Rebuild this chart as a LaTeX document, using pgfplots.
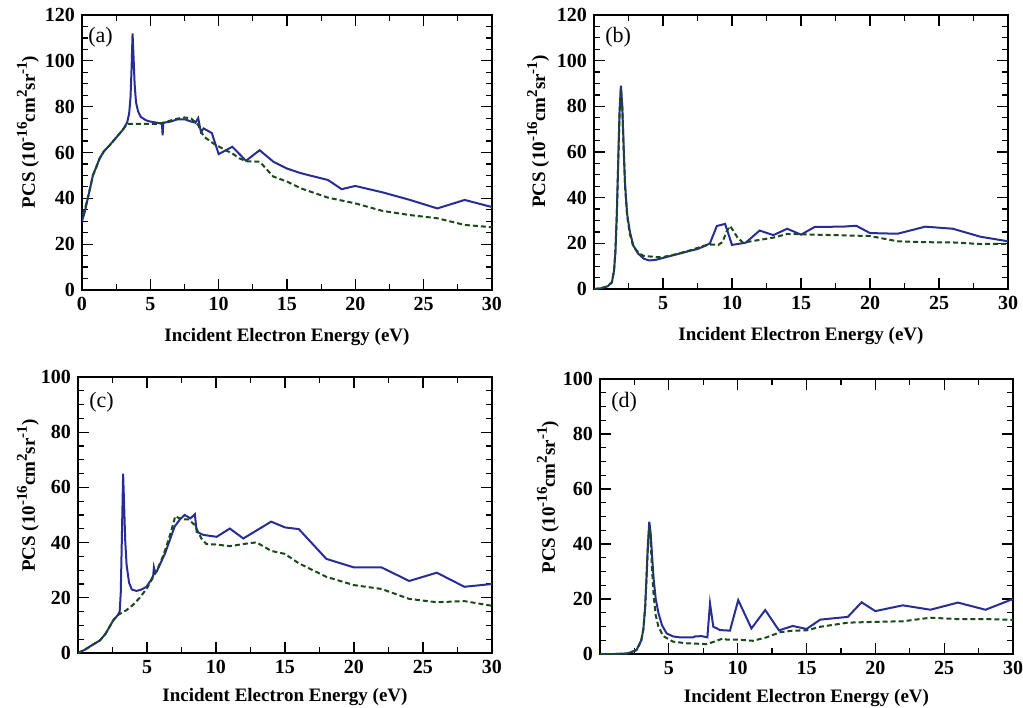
\documentclass[border=0pt]{standalone}
\usepackage{fontspec}
\setmainfont{Liberation Serif}
\usepackage{pgfplots}
\pgfplotsset{compat=1.18}
\definecolor{cblue}{RGB}{40,45,150}
\definecolor{cgreen}{RGB}{25,75,25}
\newcommand{\sups}[1]{\raisebox{0.42em}{\fontsize{7.5}{8}\selectfont\bfseries #1}}
\pgfplotsset{
 pcs/.style={
  scale only axis, xmin=0, xmax=30, ymin=0,
  xtick={0,5,...,30}, minor x tick num=1, minor y tick num=3,
  tick align=inside, major tick length=5.5pt, minor tick length=3pt,
  axis line style={line width=0.8pt},
  every tick/.append style={line width=0.6pt, black},
  /pgf/number format/assume math mode=true,
  ticklabel style={font=\fontsize{10}{12}\selectfont\bfseries},
  xlabel={Incident Electron Energy (eV)},
  ylabel={PCS (10\sups{-16}cm\sups{2}sr\sups{-1})},
  label style={font=\fontsize{9.5}{11}\selectfont\bfseries},
  xlabel style={at={(axis description cs:0.5,-0.16)}, anchor=center},
 },
 bl/.style={color=cblue, line width=1pt},
 gr/.style={color=cgreen, line width=1pt, dash pattern=on 2.5pt off 1.5pt},
}
\begin{document}
\begin{tikzpicture}
\path[use as bounding box] (0,0) rectangle (511.5pt,-353.5pt);
% (a)
\begin{axis}[pcs, at={(41pt,-145pt)}, anchor=south west, width=205pt, height=137.5pt,
  ymax=120, ytick={0,20,...,120},
  xlabel style={at={(axis description cs:0.5,-0.17)}},
  ylabel style={at={(axis description cs:-0.132,0.575)}, anchor=center}]
\addplot[bl] coordinates {
(0,30) (0.2,34) (0.5,42) (0.8,50) (1.0,53) (1.3,57.5) (1.6,60.5) (2.0,63) (2.5,66.5)
(3.0,70) (3.3,73) (3.45,77) (3.55,84) (3.63,97) (3.7,112) (3.77,102) (3.85,90) (3.95,82)
(4.1,78) (4.3,75.5) (4.7,74) (5.0,73.5) (5.5,73) (5.85,72.5) (5.9,67.5) (5.95,73)
(6.5,73.5) (7.0,74.5) (7.5,74.5) (8.0,73.5) (8.3,73) (8.5,75) (8.7,69) (8.9,70.5)
(9.5,68.5) (10.0,59.3) (11.0,62.5) (12.0,56.4) (13.0,61) (14.0,56) (15.0,53) (16.0,51)
(18.0,48) (19.0,44) (20.0,45.4) (22.0,42.6) (24.0,39.3) (26.0,35.6) (28.0,39.3) (30.0,36.2)};
\addplot[gr] coordinates {
(0,33) (0.2,35) (0.5,42) (0.8,50) (1.0,53) (1.3,57.5) (1.6,60.5) (2.0,63) (2.5,66.5)
(3.0,70) (3.3,72.5) (3.6,72.5) (4.5,72.5) (5.5,72.5) (6.0,73) (6.5,74) (7.0,74.8)
(7.5,75.3) (8.0,74.8) (8.5,72) (8.9,67) (9.6,64) (10.5,61) (11.0,59.6) (11.5,57.5)
(12.0,56.2) (13.0,56) (14.0,49.5) (15.0,47.3) (16.0,44.4) (18.0,40.3) (20.0,37.8)
(22.0,34.5) (24.0,32.7) (26.0,31.3) (28.0,28.4) (30.0,27.4)};
\node[anchor=west, inner sep=0pt, xshift=3pt, yshift=-11.25pt, font=\fontsize{11}{13}\selectfont] at (rel axis cs:0,1) {(a)};
\end{axis}
% (b)
\begin{axis}[pcs, at={(297pt,-144.5pt)}, anchor=south west, width=207pt, height=137pt,
  ymax=120, ytick={0,20,...,120}, xticklabels={,5,10,15,20,25,30},
  xlabel style={at={(axis description cs:0.5,-0.17)}},
  ylabel style={at={(axis description cs:-0.135,0.575)}, anchor=center}]
\addplot[bl] coordinates {
(0,0) (0.5,0.3) (1.0,1.2) (1.3,3) (1.45,8) (1.55,16) (1.65,32) (1.75,55) (1.85,78) (1.95,89)
(2.05,80) (2.15,62) (2.25,46) (2.4,33) (2.6,25) (2.85,19) (3.2,15.5) (3.6,13.3) (4.0,12.5)
(4.5,12.8) (5.0,13.6) (6.0,15.2) (7.0,16.8) (7.5,17.5) (8.0,18.8) (8.4,20)
(8.9,27.6) (9.5,28.5) (10.0,19.3) (11.0,20.3) (12.0,25.6) (13.0,23.6) (14.0,26.4)
(15.0,23.8) (16.0,27.2) (18.0,27.3) (19.0,27.7) (20.0,24.5) (22.0,24.2) (24.0,27.3)
(26.0,26.4) (28.0,22.9) (30.0,20.9)};
\addplot[gr] coordinates {
(0,0) (0.5,0.3) (1.0,1.2) (1.3,3) (1.45,8) (1.55,16) (1.65,32) (1.75,54) (1.85,76) (1.95,88)
(2.05,79) (2.15,61) (2.25,45) (2.4,32) (2.6,24) (2.85,18.5) (3.3,15.5) (3.6,14.5) (4.5,14) (5.0,14)
(6.0,15.3) (7.0,17) (7.5,18) (8.0,19) (8.5,19.5) (9.0,19.3) (9.3,20.5) (9.6,25)
(9.85,27.6) (10.1,25.5) (10.4,22.5) (10.8,20.3) (11.0,20.5) (12.0,21.5) (13.0,22.5)
(14.0,24.1) (15.0,24) (16.0,23.8) (18.0,23.5) (20.0,23.2) (22.0,20.9) (24.0,20.5)
(26.0,20.4) (28.0,19.7) (30.0,19.8)};
\node[anchor=west, inner sep=0pt, xshift=5.5pt, yshift=-11.25pt, font=\fontsize{11}{13}\selectfont] at (rel axis cs:0,1) {(b)};
\end{axis}
% (c)
\begin{axis}[pcs, at={(39pt,-326.5pt)}, anchor=south west, width=207pt, height=138pt,
  ymax=100, ytick={0,20,...,100}, xticklabels={,5,10,15,20,25,30},
  ylabel style={at={(axis description cs:-0.121,0.57)}, anchor=center}]
\addplot[bl] coordinates {
(0,0) (0.5,1.2) (1.0,2.8) (1.6,4.6) (2.0,7) (2.56,11.9) (2.9,13.8) (3.02,15)
(3.1,22) (3.18,42) (3.27,65) (3.34,54) (3.42,41) (3.52,32) (3.7,25.5) (3.9,23)
(4.24,22.5) (4.6,23) (4.96,24) (5.3,26.5) (5.45,28) (5.5,31) (5.6,29) (5.7,29.5)
(6.3,36) (7.0,45.8) (7.4,48.5) (7.73,50) (8.15,48.8) (8.47,50.3) (8.6,43.9)
(9.08,42.8) (10.05,42.1) (11.0,45.1) (11.98,41.5) (14.0,47.6) (15.0,45.5) (16.0,44.9)
(18.0,34.1) (20.0,31.0) (22.0,31.0) (24.0,26.1) (26.0,29.1) (28.0,24.0) (30.0,25.0)};
\addplot[gr] coordinates {
(0,0) (0.5,1.2) (1.0,2.8) (1.6,4.6) (2.0,7) (2.56,11.9) (2.9,13.8) (3.5,15.5)
(4.0,17.5) (4.47,20) (5.0,23.5) (5.5,28) (6.0,33) (6.4,38.5) (6.8,45) (7.05,49.6)
(7.5,48.4) (8.0,48.4) (8.46,46.4) (8.94,41.5) (9.3,39.5) (10.05,39.3) (11.0,38.7)
(12.0,39.5) (12.93,40.1) (14.0,37) (15.0,35.9) (16.0,32.5) (18.0,27.6) (20.0,24.6)
(22.0,23.2) (24.0,19.6) (26.0,18.4) (28.0,18.8) (30.0,17.1)};
\node[anchor=west, inner sep=0pt, xshift=5.5pt, yshift=-12.5pt, font=\fontsize{11}{13}\selectfont] at (rel axis cs:0,1) {(c)};
\end{axis}
% (d)
\begin{axis}[pcs, at={(300pt,-327pt)}, anchor=south west, width=206.5pt, height=137.5pt,
  ymax=100, ytick={0,20,...,100}, xticklabels={,5,10,15,20,25,30},
  ylabel style={at={(axis description cs:-0.126,0.57)}, anchor=center}]
\addplot[bl] coordinates {
(0,0) (1.0,0) (2.0,0.2) (2.66,1.45) (3.0,5) (3.15,9) (3.28,17) (3.38,28) (3.48,40)
(3.58,48.1) (3.68,44) (3.78,36) (3.9,27) (4.05,20) (4.24,15) (4.5,10.5) (4.84,7.5)
(5.3,6.4) (5.8,6.06) (6.77,6.06) (6.9,6.4) (7.38,6.5) (7.8,6.06) (7.99,18.4) (8.23,9.9)
(8.5,9.3) (8.71,8.7) (9.44,8.5) (10.04,19.6) (11.0,9.3) (12.0,16) (13.0,8.6) (14.0,10.2)
(15.0,9.1) (16.0,12.5) (18.0,13.5) (19.0,18.8) (20.0,15.6) (22.0,17.7) (24.0,16.1)
(26.0,18.7) (28.0,16.1) (30.0,20)};
\addplot[gr] coordinates {
(0,0) (1.0,0) (2.0,0.2) (2.66,1.45) (3.0,5) (3.15,9) (3.28,17) (3.38,28) (3.48,39)
(3.58,46) (3.68,41) (3.78,31) (3.9,21) (4.05,14) (4.24,10) (4.6,6.5) (5.3,4.5) (6.3,3.9)
(7.75,3.6) (8.3,4.5) (8.96,5.7) (9.2,5.2) (10.1,5.2) (11.1,4.8) (12.1,6.06) (13.07,7.9)
(14.0,8.5) (15.0,8.6) (16.0,9.9) (18.0,11.4) (20.0,11.7) (22.0,11.9) (24.0,13.2)
(26.0,12.7) (28.0,12.7) (30.0,12.4)};
\node[anchor=west, inner sep=0pt, xshift=5.5pt, yshift=-11.5pt, font=\fontsize{11}{13}\selectfont] at (rel axis cs:0,1) {(d)};
\end{axis}
\end{tikzpicture}
\end{document}
